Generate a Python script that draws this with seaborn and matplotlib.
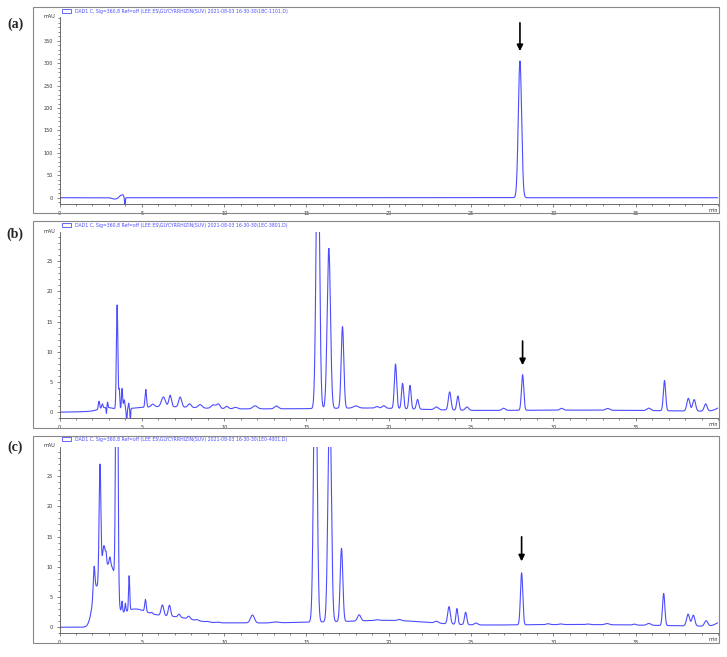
import numpy as np
import pandas as pd
import matplotlib
matplotlib.use("Agg")
import matplotlib.pyplot as plt
from matplotlib.patches import Patch, Rectangle
from matplotlib.ticker import MultipleLocator
import seaborn as sns

# peak tables
# retention time (min), height above baseline (mAU), peak sigma (min)
a_time = [3.35, 3.75, 3.86, 3.97, 27.97]
a_height = [-3.0, 6.0, 3.0, -17.0, 305.0]
a_width = [0.15, 0.10, 0.04, 0.022, 0.1]

# (b) baseline humps, then peaks
b_base_time = [2.8, 6.0, 12.0, 19.0, 31.0, 40.3]
b_base_height = [0.5, 0.8, 0.5, 0.55, 0.35, 0.8]
b_base_width = [0.4, 2.2, 3.5, 3.0, 7.0, 0.35]
b_time = [2.4, 2.6, 2.85, 2.92, 3.5, 3.63, 3.8, 3.93, 4.08, 4.2, 4.3,
          5.24, 5.67, 6.31, 6.72, 7.33, 7.9, 8.54, 9.35, 9.65, 10.16, 10.69,
          11.88, 13.18, 15.69, 16.36, 17.19, 18.0, 19.28, 19.7, 20.41, 20.84,
          21.29, 21.75, 22.9, 23.7, 24.2, 24.75, 26.98, 28.13, 30.5, 33.3,
          35.8, 36.75, 38.2, 38.55, 39.25]
b_height = [1.3, 0.7, -1.0, 0.9, 17.2, 3.1, 3.4, 1.5, -2.2, 0.9, -2.2,
            2.95, 0.45, 1.6, 1.9, 1.65, 0.6, 0.55, 0.6, 0.75, 0.4, 0.25,
            0.5, 0.45, 48.0, 26.5, 13.5, 0.35, 0.25, 0.4, 7.35, 4.2,
            3.9, 1.6, 0.45, 3.0, 2.35, 0.55, 0.35, 5.9, 0.3, 0.3,
            0.4, 5.0, 2.1, 1.9, 1.2]
b_width = [0.04, 0.04, 0.02, 0.025, 0.045, 0.03, 0.035, 0.04, 0.025, 0.025, 0.02,
           0.045, 0.1, 0.12, 0.08, 0.09, 0.1, 0.12, 0.13, 0.1, 0.1, 0.12,
           0.14, 0.12, 0.1, 0.1, 0.08, 0.15, 0.1, 0.1, 0.07, 0.065,
           0.065, 0.07, 0.12, 0.08, 0.07, 0.1, 0.1, 0.07, 0.1, 0.12,
           0.12, 0.07, 0.09, 0.09, 0.09]

# (c) baseline humps, then peaks
c_base_time = [2.95, 2.2, 2.68, 3.3, 4.4, 6.5, 10.5, 14.5, 20.0, 31.0, 40.3]
c_base_height = [9.5, 5.5, 5.5, 2.0, 2.2, 1.8, 0.45, 0.7, 1.0, 0.45, 0.9]
c_base_width = [0.35, 0.22, 0.1, 0.15, 0.8, 1.6, 1.5, 2.5, 2.5, 6.0, 0.35]
c_time = [2.1, 2.46, 2.83, 3.06, 3.48, 3.8, 4.0, 4.23, 5.22, 5.6, 6.25, 6.68,
          7.26, 7.85, 8.36, 9.0, 9.6, 11.72, 13.1, 15.54, 16.41, 17.13, 18.2,
          19.3, 20.65, 22.9, 23.66, 24.14, 24.67, 25.3, 28.07, 29.68, 30.45,
          32.07, 33.26, 34.92, 35.8, 36.7, 38.18, 38.5, 39.28]
c_height = [4.5, 20.0, 1.2, 1.3, 60.0, 1.7, 1.4, 5.7, 2.0, 0.2, 1.75, 1.8,
            0.5, 0.45, 0.15, 0.1, 0.1, 1.3, 0.15, 50.0, 38.0, 12.1, 1.0,
            0.1, 0.2, 0.3, 2.85, 2.6, 2.05, 0.3, 8.6, 0.15, 0.1,
            0.1, 0.2, 0.15, 0.3, 5.3, 1.95, 1.8, 0.9]
c_width = [0.05, 0.055, 0.03, 0.045, 0.06, 0.03, 0.03, 0.035, 0.045, 0.05, 0.08, 0.07,
           0.07, 0.08, 0.08, 0.1, 0.1, 0.12, 0.2, 0.1, 0.1, 0.08, 0.1,
           0.1, 0.1, 0.12, 0.08, 0.06, 0.07, 0.1, 0.07, 0.1, 0.1,
           0.1, 0.12, 0.1, 0.12, 0.07, 0.09, 0.09, 0.1]

panel_labels = ["(a)", "(b)", "(c)"]
sample_ids = ["1BC-1101.D", "1EC-3801.D", "1E0-4001.D"]
legend_prefix = "DAD1 C, Sig=360,8 Ref=off (LEE ES\\GLYCYRRHIZIN(SUV) 2021-08-03 16-30-30\\"
arrow_time = [27.97, 28.13, 28.07]
arrow_top = [390, 11.8, 14.95]
arrow_tip = [327, 7.8, 10.9]
y_major = [50, 5, 5]
y_minor = [10, 1, 1]
y_top_label = [350, 25, 25]

grid = np.arange(0, 40.6, 0.004)


def trace(times, heights, widths):
    t = grid[:, None]
    mu = np.array(times)
    h = np.array(heights)
    s = np.array(widths)
    return (h * np.exp(-0.5 * ((t - mu) / s) ** 2)).sum(axis=1)


signals = [
    trace(a_time, a_height, a_width),
    trace(b_base_time + b_time, b_base_height + b_height, b_base_width + b_width),
    trace(c_base_time + c_time, c_base_height + c_height, c_base_width + c_width),
]

sns.set_style("ticks")
plt.rcParams["font.family"] = ["DejaVu Sans"]

W, H = 727, 657
fig = plt.figure(figsize=(W / 100, H / 100), dpi=100)

# pixel boxes of the panels: (axis top, axis bottom, frame top, frame bottom, legend y, label y)
boxes = [(17, 204, 7, 213, 11, 24),
         (232.3, 418.3, 221, 428.3, 225, 234),
         (446.7, 633.3, 435.7, 642.7, 439, 447)]
ylims = [(-14, 403), (-1, 29.8), (-1, 29.85)]
blue = "#4d4dff"

for i, sig in enumerate(signals):
    top, bot, ftop, fbot, ly, lab_y = boxes[i]
    ax = fig.add_axes([59.5 / W, 1 - bot / H, 658.5 / W, (bot - top) / H])
    df = pd.DataFrame({"time": grid, "signal": sig})
    sns.lineplot(data=df, x="time", y="signal", ax=ax, color=blue,
                 linewidth=0.8, estimator=None, sort=False)
    ax.set_xlim(0, 40)
    ax.set_ylim(*ylims[i])
    ax.set_xlabel("")
    ax.set_ylabel("")
    ax.set_facecolor("none")
    ax.set_xticks([0, 5, 10, 15, 20, 25, 30, 35])
    ax.xaxis.set_minor_locator(MultipleLocator(1))
    ax.set_yticks(np.arange(0, y_top_label[i] + 1, y_major[i]))
    ax.yaxis.set_minor_locator(MultipleLocator(y_minor[i]))
    ax.tick_params(which="major", length=2.5, width=0.5, colors="#555",
                   labelsize=3.5, labelcolor="#333", pad=2.5)
    ax.tick_params(which="minor", length=1.3, width=0.5, colors="#555")
    sns.despine(ax=ax)
    for side in ["left", "bottom"]:
        ax.spines[side].set_color("#555")
        ax.spines[side].set_linewidth(0.6)

    ax.text(-0.006, 1.005, "mAU", transform=ax.transAxes, ha="right",
            va="center", fontsize=3.5, color="#333")
    ax.text(1.0, -0.035, "min", transform=ax.transAxes, ha="right",
            va="center", fontsize=3.5, color="#333")

    ax.annotate("", xy=(arrow_time[i], arrow_tip[i]),
                xytext=(arrow_time[i], arrow_top[i]),
                arrowprops=dict(arrowstyle="-|>", color="black", lw=1.2,
                                mutation_scale=9, shrinkA=0, shrinkB=0))

    handle = Patch(facecolor="white", edgecolor=blue, linewidth=0.6)
    fig.legend(handles=[handle], labels=[legend_prefix + sample_ids[i] + ")"],
               loc="center left", bbox_to_anchor=(62 / W, 1 - ly / H),
               bbox_transform=fig.transFigure, frameon=False, fontsize=3.3,
               labelcolor=blue, handlelength=2.0, handleheight=0.7,
               handletextpad=0.8, borderaxespad=0, borderpad=0)

    fig.add_artist(Rectangle((33 / W, 1 - fbot / H), 686 / W, (fbot - ftop) / H,
                             transform=fig.transFigure, fill=False,
                             edgecolor="#888", linewidth=0.8))
    fig.text(15 / W, 1 - lab_y / H, panel_labels[i], ha="center", va="center",
             fontsize=10, fontweight="bold", family=["Liberation Serif", "DejaVu Serif"])

fig.savefig("out.png", dpi=100)
